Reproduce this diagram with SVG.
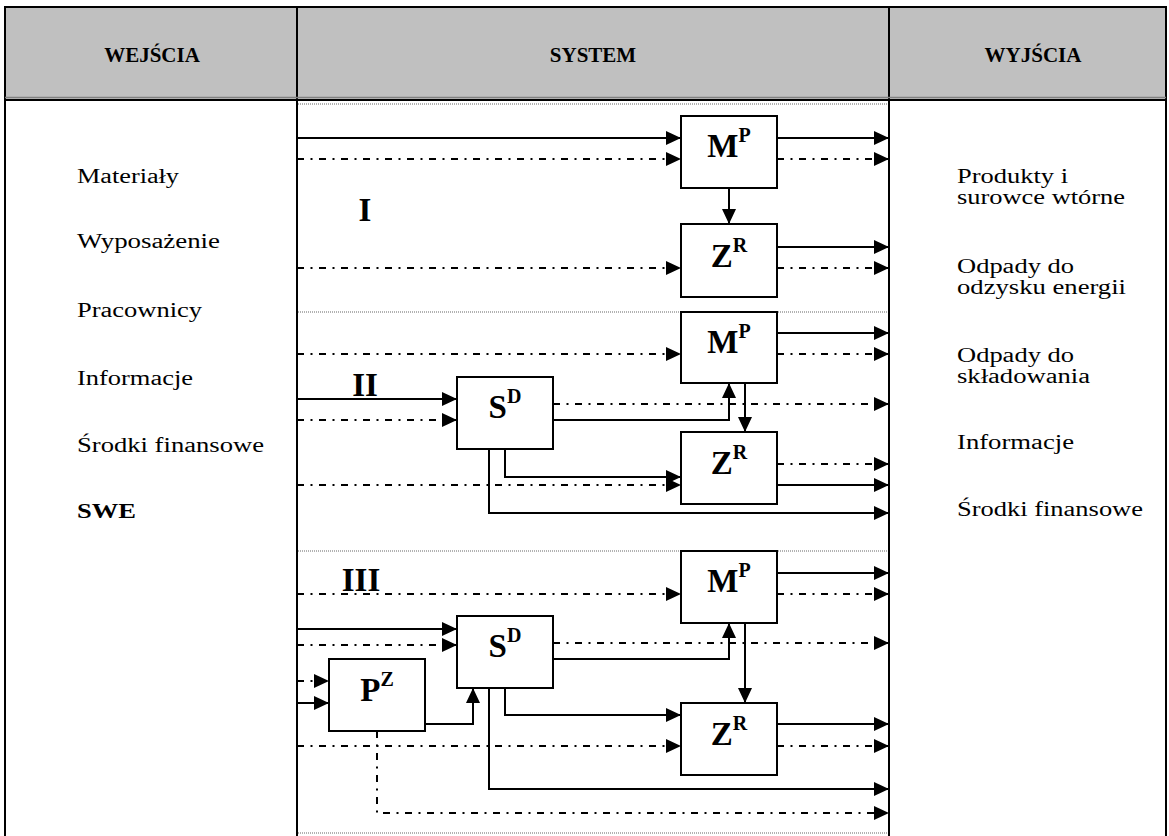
<svg xmlns="http://www.w3.org/2000/svg" width="1169" height="836" viewBox="0 0 1169 836">
<style>
  .frame{stroke:#000;stroke-width:2;fill:none}
  .sep{stroke:#999;stroke-width:1.5;stroke-dasharray:1 1;fill:none}
  .box{fill:#fff;stroke:#000;stroke-width:2}
  .s{fill:none;stroke:#000;stroke-width:2;marker-end:url(#ah)}
  .d{fill:none;stroke:#000;stroke-width:2;stroke-dasharray:7 6.5 2 6.5;marker-end:url(#ah)}
  .hd{font-family:"Liberation Serif","Times New Roman",serif;font-weight:bold;font-size:21px;text-anchor:middle}
  .tx{font-family:"Liberation Serif","Times New Roman",serif;font-size:20px}
  .txb{font-family:"Liberation Serif","Times New Roman",serif;font-size:20px;font-weight:bold}
  .rn{font-family:"Liberation Serif","Times New Roman",serif;font-weight:bold;font-size:33px;text-anchor:middle}
  .lb{font-family:"Liberation Serif","Times New Roman",serif;font-weight:bold;font-size:33px;text-anchor:middle}
  .sup{font-size:20px}
</style>
<defs>
  <marker id="ah" markerUnits="userSpaceOnUse" markerWidth="15" markerHeight="14" refX="15" refY="7" orient="auto">
    <path d="M0,0 L15,7 L0,14 z" fill="#000" stroke="none"/>
  </marker>
</defs>
<rect width="1169" height="836" fill="#fff"/>
<g id="table">
  <rect x="5" y="7" width="1161" height="92" fill="#c0c0c0"/>
  <line class="frame" x1="4" y1="7" x2="1167" y2="7"/>
  <line class="frame" x1="5" y1="6" x2="5" y2="836"/>
  <line class="frame" x1="1166" y1="6" x2="1166" y2="836"/>
  <line class="frame" x1="297" y1="6" x2="297" y2="836"/>
  <line class="frame" x1="889" y1="6" x2="889" y2="836"/>
  <line x1="5" y1="97.5" x2="1166" y2="97.5" stroke="#808080" stroke-width="1.5"/>
  <line x1="5" y1="100" x2="1166" y2="100" stroke="#000" stroke-width="2"/>
  <line class="sep" x1="298" y1="104" x2="888" y2="104"/>
  <line class="sep" x1="298" y1="312" x2="888" y2="312"/>
  <line class="sep" x1="298" y1="551" x2="888" y2="551"/>
  <line class="sep" x1="298" y1="833" x2="888" y2="833"/>
  <text class="hd" x="152" y="62">WEJŚCIA</text>
  <text class="hd" x="593" y="62">SYSTEM</text>
  <text class="hd" x="1033" y="62">WYJŚCIA</text>
</g>
<g id="inputs">
  <text class="tx" x="77" y="183" textLength="102" lengthAdjust="spacingAndGlyphs">Materiały</text>
  <text class="tx" x="77" y="248" textLength="143" lengthAdjust="spacingAndGlyphs">Wyposażenie</text>
  <text class="tx" x="77" y="317" textLength="125" lengthAdjust="spacingAndGlyphs">Pracownicy</text>
  <text class="tx" x="77" y="385" textLength="116" lengthAdjust="spacingAndGlyphs">Informacje</text>
  <text class="tx" x="77" y="452" textLength="187" lengthAdjust="spacingAndGlyphs">Środki finansowe</text>
  <text class="txb" x="77" y="518" textLength="59" lengthAdjust="spacingAndGlyphs">SWE</text>
</g>
<g id="outputs">
  <text class="tx" x="957" y="183" textLength="111" lengthAdjust="spacingAndGlyphs">Produkty i</text>
  <text class="tx" x="957" y="204" textLength="168" lengthAdjust="spacingAndGlyphs">surowce wtórne</text>
  <text class="tx" x="957" y="273" textLength="117" lengthAdjust="spacingAndGlyphs">Odpady do</text>
  <text class="tx" x="957" y="294" textLength="169" lengthAdjust="spacingAndGlyphs">odzysku energii</text>
  <text class="tx" x="957" y="362" textLength="117" lengthAdjust="spacingAndGlyphs">Odpady do</text>
  <text class="tx" x="957" y="383" textLength="133" lengthAdjust="spacingAndGlyphs">składowania</text>
  <text class="tx" x="957" y="449" textLength="117" lengthAdjust="spacingAndGlyphs">Informacje</text>
  <text class="tx" x="957" y="516" textLength="186" lengthAdjust="spacingAndGlyphs">Środki finansowe</text>
</g>
<g id="section-labels">
  <text class="rn" x="365" y="221">I</text>
  <text class="rn" x="365" y="396">II</text>
  <text class="rn" x="361" y="591">III</text>
</g>
<g id="connectors">
  <path class="s" d="M297,138 H681"/>
  <path class="d" d="M297,159 H681"/>
  <path class="s" d="M777,138 H889"/>
  <path class="d" d="M777,159 H889"/>
  <path class="s" d="M729,188 V224"/>
  <path class="d" d="M297,268 H681"/>
  <path class="s" d="M777,247 H889"/>
  <path class="d" d="M777,268 H889"/>
  <path class="d" d="M297,354 H681"/>
  <path class="s" d="M777,333 H889"/>
  <path class="d" d="M777,354 H889"/>
  <path class="s" d="M297,399 H457"/>
  <path class="d" d="M297,420 H457"/>
  <path class="d" d="M553,404 H889"/>
  <path class="s" d="M553,420 H729 V383"/>
  <path class="s" d="M745,383 V432"/>
  <path class="s" d="M505,449 V477 H681"/>
  <path class="d" d="M297,485 H681"/>
  <path class="s" d="M489,449 V513 H889"/>
  <path class="d" d="M777,464 H889"/>
  <path class="s" d="M777,485 H889"/>
  <path class="d" d="M297,594 H681"/>
  <path class="s" d="M777,573 H889"/>
  <path class="d" d="M777,594 H889"/>
  <path class="s" d="M297,629 H457"/>
  <path class="d" d="M297,645 H457"/>
  <path class="d" d="M553,643 H889"/>
  <path class="s" d="M553,659 H729 V623"/>
  <path class="s" d="M745,623 V703"/>
  <path class="d" d="M297,681 H329"/>
  <path class="s" d="M297,703 H329"/>
  <path class="s" d="M425,724 H473 V688"/>
  <path class="s" d="M505,688 V715 H681"/>
  <path class="d" d="M297,746 H681"/>
  <path class="s" d="M489,688 V789 H889"/>
  <path class="d" d="M377,731 V813 H889"/>
  <path class="s" d="M777,724 H889"/>
  <path class="d" d="M777,746 H889"/>
</g>
<g id="M1"><rect class="box" x="681" y="116" width="96" height="72"/><text class="lb" x="729" y="157">M<tspan class="sup" dy="-15">P</tspan></text></g>
<g id="Z1"><rect class="box" x="681" y="224" width="96" height="73"/><text class="lb" x="729" y="267">Z<tspan class="sup" dy="-15">R</tspan></text></g>
<g id="M2"><rect class="box" x="681" y="312" width="96" height="71"/><text class="lb" x="729" y="353">M<tspan class="sup" dy="-15">P</tspan></text></g>
<g id="S2"><rect class="box" x="457" y="377" width="96" height="72"/><text class="lb" x="505" y="418">S<tspan class="sup" dy="-15">D</tspan></text></g>
<g id="Z2"><rect class="box" x="681" y="432" width="96" height="72"/><text class="lb" x="729" y="474">Z<tspan class="sup" dy="-15">R</tspan></text></g>
<g id="M3"><rect class="box" x="681" y="551" width="96" height="72"/><text class="lb" x="729" y="592">M<tspan class="sup" dy="-15">P</tspan></text></g>
<g id="S3"><rect class="box" x="457" y="616" width="96" height="72"/><text class="lb" x="505" y="657">S<tspan class="sup" dy="-15">D</tspan></text></g>
<g id="P3"><rect class="box" x="329" y="659" width="96" height="72"/><text class="lb" x="377" y="701">P<tspan class="sup" dy="-15">Z</tspan></text></g>
<g id="Z3"><rect class="box" x="681" y="703" width="96" height="72"/><text class="lb" x="729" y="745">Z<tspan class="sup" dy="-15">R</tspan></text></g>
</svg>
